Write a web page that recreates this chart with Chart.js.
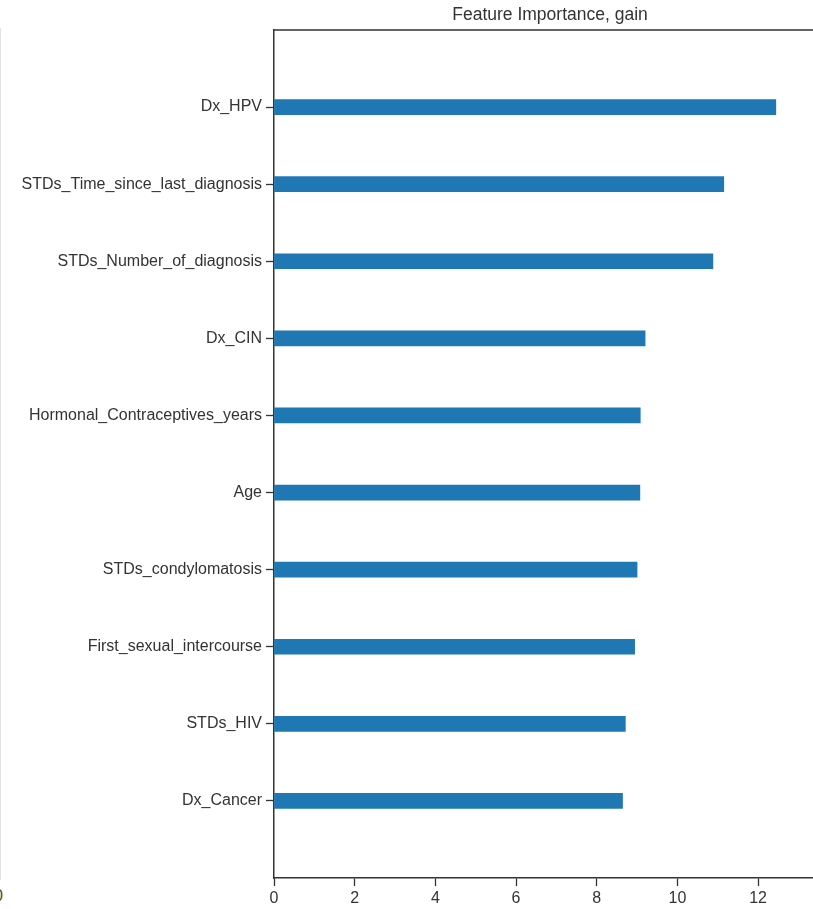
<!DOCTYPE html>
<html>
<head>
<meta charset="utf-8">
<script src="https://cdn.jsdelivr.net/npm/chart.js@4"></script>
<style>
    html, body { margin: 0; padding: 0; background: #fff; overflow: hidden; }
    body { width: 813px; height: 909px; position: relative; }
    #wrap { position: absolute; left: 0; top: 0; width: 1100px; height: 909px; }
    /* edge of the neighbouring subplot, cut off by the crop */
    #edge { position: absolute; left: 0; top: 28px; width: 0; height: 852px; border-left: 1px solid #e2e2e2; }
    #edgeTick { position: absolute; left: -6px; top: 887px; font: 16px "Liberation Sans", Arial, sans-serif; color: #444; }
</style>
</head>
<body>
<div id="edge"></div>
<div id="edgeTick">0</div>
<div id="wrap"><canvas id="importanceChart"></canvas></div>
<script>
// features, top to bottom
const features = [
    'Dx_HPV',
    'STDs_Time_since_last_diagnosis',
    'STDs_Number_of_diagnosis',
    'Dx_CIN',
    'Hormonal_Contraceptives_years',
    'Age',
    'STDs_condylomatosis',
    'First_sexual_intercourse',
    'STDs_HIV',
    'Dx_Cancer'
];
const gains = [12.44, 11.15, 10.88, 9.20, 9.08, 9.07, 9.00, 8.94, 8.71, 8.64];
const xTicks = [0, 2, 4, 6, 8, 10, 12];
const xMax = Math.max(...gains) * 1.1;

const axisColor = '#333333';
const textColor = '#333333';
const tickFont = { family: '"Liberation Sans", Arial, sans-serif', size: 16 };

// top / right spines like matplotlib
const spines = {
    id: 'spines',
    afterDraw(chart) {
        const { ctx, chartArea: a } = chart;
        ctx.save();
        ctx.strokeStyle = axisColor;
        ctx.lineWidth = 1.5;
        ctx.beginPath();
        ctx.moveTo(a.left, a.top);
        ctx.lineTo(a.right, a.top);
        ctx.lineTo(a.right, a.bottom);
        ctx.stroke();
        ctx.restore();
    }
};

const canvas = document.getElementById('importanceChart');

new Chart(canvas, {
    type: 'bar',
    data: {
        datasets: [{
            label: 'gain',
            data: gains.map((g, i) => ({ x: g, y: i })),
            backgroundColor: '#1f77b4',
            borderWidth: 0,
            barThickness: 15
        }]
    },
    options: {
        indexAxis: 'y',
        responsive: true,
        maintainAspectRatio: false,
        animation: false,
        layout: { padding: 0 },
        plugins: {
            legend: { display: false },
            tooltip: { enabled: false },
            title: {
                display: true,
                text: 'Feature Importance, gain',
                color: textColor,
                font: { family: '"Liberation Sans", Arial, sans-serif', size: 17.5, weight: 'normal' },
                padding: { top: 5, bottom: 4 }
            }
        },
        scales: {
            x: {
                type: 'linear',
                min: 0,
                max: xMax,
                afterFit: s => { s.height = 31; },
                afterBuildTicks: s => { s.ticks = xTicks.map(v => ({ value: v })); },
                ticks: { color: textColor, font: tickFont, padding: 3, maxRotation: 0 },
                grid: { drawOnChartArea: false, tickLength: 8, tickColor: axisColor, tickWidth: 1.3 },
                border: { color: axisColor, width: 1.5 }
            },
            y: {
                type: 'linear',
                min: -1,
                max: features.length,
                reverse: true,
                offset: false,
                afterFit: s => { s.width = 274; },
                afterBuildTicks: s => { s.ticks = features.map((_, i) => ({ value: i })); },
                ticks: {
                    color: textColor,
                    font: tickFont,
                    padding: 4,
                    autoSkip: false,
                    callback: v => features[v]
                },
                grid: { offset: false, drawOnChartArea: false, tickLength: 8, tickColor: axisColor, tickWidth: 1.3 },
                border: { color: axisColor, width: 1.5 }
            },
            // empty right-hand axis, keeps the plot symmetric so the title centres over it
            yRight: {
                type: 'linear',
                position: 'right',
                afterFit: s => { s.width = 274; },
                ticks: { display: false },
                grid: { display: false },
                border: { display: false }
            }
        }
    },
    plugins: [spines]
});
</script>
</body>
</html>
